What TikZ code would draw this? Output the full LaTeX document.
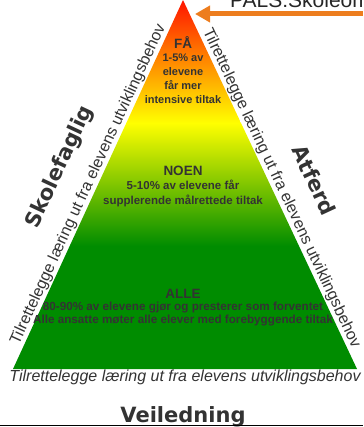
\documentclass[tikz,border=0pt]{standalone}
\usepackage{fontspec}
\setmainfont{Liberation Sans}
\newfontfamily\verdanafont{DejaVu Sans}
\usetikzlibrary{arrows.meta,calc,positioning}
\definecolor{txtgray}{RGB}{51,51,51}
\definecolor{pyrgreen}{RGB}{0,140,0}
\definecolor{pyrred}{RGB}{255,20,0}
\definecolor{pyrorange}{RGB}{255,165,0}
\definecolor{pyryellow}{RGB}{255,255,0}
\definecolor{pyrlime}{RGB}{195,218,0}
\definecolor{pointerorange}{RGB}{237,125,30}

\begin{document}
\begin{tikzpicture}[x=1pt,y=1pt,
    level/.style={font=\bfseries\fontsize{13.5}{16}\selectfont, text=txtgray, inner sep=0pt},
    detail/.style={font=\bfseries\fontsize{11}{14.3}\selectfont, text=txtgray, align=center, inner sep=0pt},
    side/.style={font=\fontsize{16}{18}\selectfont, text=txtgray, inner sep=1pt},
    heading/.style={font=\verdanafont\bfseries\fontsize{21}{24}\selectfont, text=txtgray, inner sep=0pt},
    pointer/.style={draw=pointerorange, line width=5pt, -{Triangle[length=15pt,width=16pt]}}]
  \useasboundingbox (0,0) rectangle (363,-427);

  % pyramid corners and level borders
  \coordinate (apex) at (183,0);
  \coordinate (bl) at (13,-369);
  \coordinate (br) at (357,-369);
  \coordinate (l1) at ($(apex)!0.3333!(bl)$);
  \coordinate (r1) at ($(apex)!0.3333!(br)$);
  \coordinate (l2) at ($(apex)!0.6667!(bl)$);
  \coordinate (r2) at ($(apex)!0.6667!(br)$);

  % levels
  \shade [top color=pyrred, middle color=pyrorange, bottom color=pyryellow]
        (apex) -- (r1) -- (l1) -- cycle;
  \shade [top color=pyryellow, middle color=pyrlime, bottom color=pyrgreen]
        (l1) -- (r1) -- (r2) -- (l2) -- cycle;
  \fill [pyrgreen] (l2) -- (r2) -- (br) -- (bl) -- cycle;

  % level labels
  \node [level] (fa) at (183,-43) {FÅ};
  \node [detail, below=4pt of fa] (fadetail) {1-5\% av\\elevene\\får mer\\intensive tiltak};
  \node [level] (noen) at (183,-171) {NOEN};
  \node [detail, font=\bfseries\fontsize{11.5}{15}\selectfont, below=4pt of noen] (noendetail)
        {5-10\% av elevene får\\supplerende målrettede tiltak};
  \node [level] (alle) at (183,-294) {ALLE};
  \node [detail, font=\bfseries\fontsize{11.7}{12.5}\selectfont, below=3pt of alle] (alledetail)
        {80-90\% av elevene gjør og presterer som forventet\\Alle ansatte møter alle elever med forebyggende tiltak};

  % side labels
  \path (bl) -- (apex) node [side, pos=0.49, sloped, above] (leftside)
        {Tilrettelegge læring ut fra elevens utviklingsbehov};
  \path (apex) -- (br) node [side, pos=0.52, sloped, above] (rightside)
        {Tilrettelegge læring ut fra elevens utviklingsbehov};
  \node [side, font=\itshape\fontsize{16}{18}\selectfont, below=0pt of {$(bl)!0.5!(br)$}] (bottomside)
        {Tilrettelegge læring ut fra elevens utviklingsbehov};

  % headings
  \node [heading, rotate=65] (skolefaglig) at (60,-167) {Skolefaglig};
  \node [heading, rotate=-65] (atferd) at (314,-180) {Atferd};
  \node [heading, anchor=base] (veiledning) at (183,-422) {Veiledning};
  \draw [line width=1.5pt] (0,-425.5) -- (363,-425.5);

  % pointer from the top
  \coordinate (pointerstart) at (363,-14);
  \coordinate (pointertip) at (195,-14);
  \node [anchor=base west, inner sep=0pt, font=\fontsize{21}{24}\selectfont, text=black!85] (pals)
        at (230,-8) {PALS:Skoleomfattende};
  \draw [pointer] (pointerstart) -- (pointertip);
\end{tikzpicture}
\end{document}
